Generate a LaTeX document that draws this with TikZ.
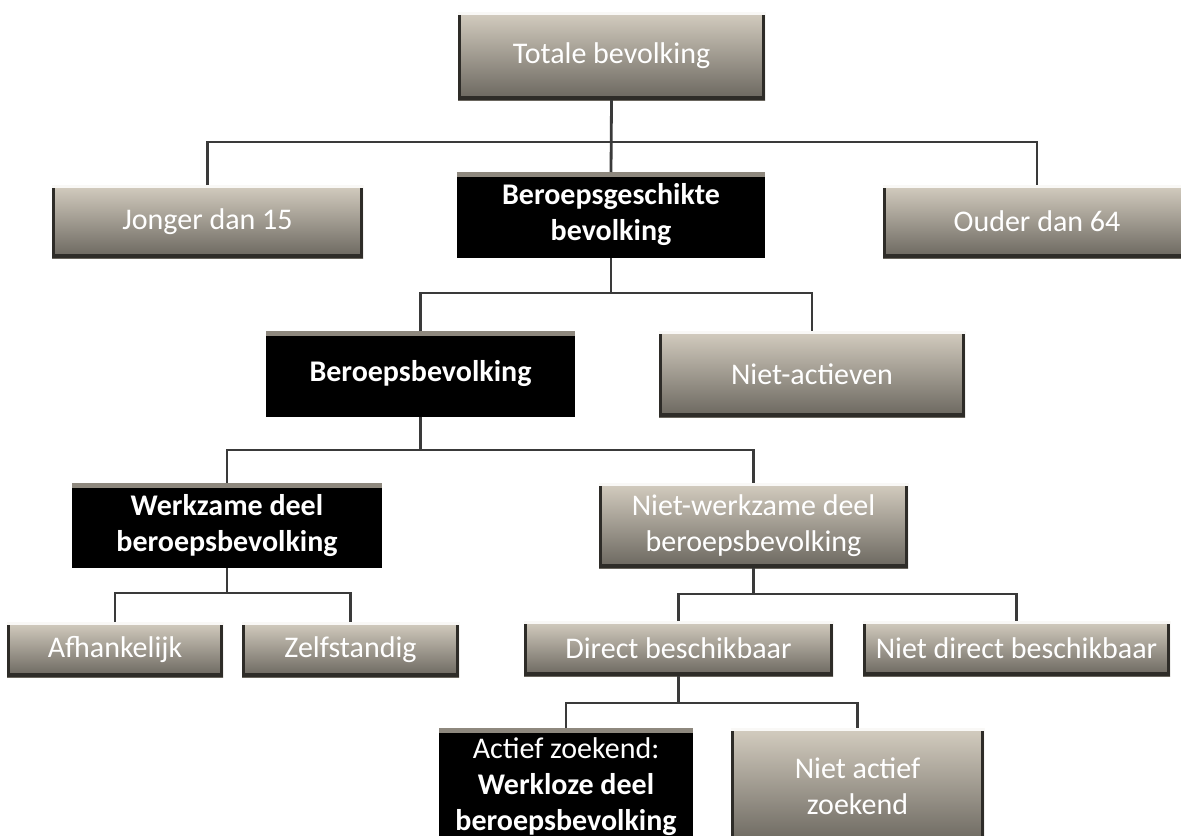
\documentclass[tikz,border=0pt]{standalone}
\usepackage{fontspec}
\setmainfont{Carlito}
\usetikzlibrary{positioning}

\definecolor{grijstop}{HTML}{D4CDC0}
\definecolor{grijsmid}{HTML}{A9A296}
\definecolor{grijsbodem}{HTML}{6A665E}
\definecolor{bevel}{HTML}{8E887E}
\definecolor{rand}{HTML}{2E2C28}
\definecolor{lijn}{HTML}{3A3A3A}

\begin{document}
\begin{tikzpicture}[x=0.5pt,y=-0.5pt,
box/.style={rectangle, inner sep=0pt, outer sep=0pt, align=center, text=white,
  font=\fontsize{15}{18}\selectfont},
grijs/.style={box, top color=grijstop, middle color=grijsmid, bottom color=grijsbodem,
  path picture={
    \fill[rand] (path picture bounding box.south west) rectangle
      ([xshift=1.5pt]path picture bounding box.north west);
    \fill[rand] (path picture bounding box.south east) rectangle
      ([xshift=-1.5pt]path picture bounding box.north east);
    \fill[rand] (path picture bounding box.south west) rectangle
      ([yshift=2pt]path picture bounding box.south east);
    \fill[white!85!grijstop] (path picture bounding box.north west) rectangle
      ([yshift=-1.5pt]path picture bounding box.north east);}},
zwart/.style={box, fill=black, font=\fontsize{15}{18}\selectfont\bfseries,
  path picture={\fill[bevel] (path picture bounding box.north west) rectangle
    ([yshift=-2.5pt]path picture bounding box.north east);}},
verbinding/.style={draw=lijn, line width=1.4pt},
]
\useasboundingbox (0,0) rectangle (1181,835);

\node at (611.5,56) [grijs, minimum width=153.5pt, minimum height=44pt](totaal){Totale bevolking};
\node at (207.5,221.5) [grijs, minimum width=155.5pt, minimum height=36.5pt](jonger){Jonger dan 15};
\node at (611,215) [zwart, minimum width=154pt, minimum height=43pt](geschikt){Beroepsgeschikte\\bevolking};
\node at (1037,221.5) [grijs, minimum width=154pt, minimum height=36.5pt](ouder){Ouder dan 64};
\coordinate (bus1) at (611,142);
\draw[verbinding] (totaal.south) -- (geschikt.north);
\draw[verbinding] (jonger.north) |- (bus1) -| (ouder.north);

\node at (420.5,374) [zwart, minimum width=154.5pt, minimum height=43pt](bevolking){Beroepsbevolking};
\node at (812,374) [grijs, minimum width=153pt, minimum height=43pt](nietactief){Niet-actieven};
\coordinate (bus2) at (611,293);
\draw[verbinding] (geschikt.south) -- (bus2);
\draw[verbinding] (bevolking.north) |- (bus2) -| (nietactief.north);

\node at (227,525.5) [zwart, minimum width=155pt, minimum height=42.5pt](werkzaam){Werkzame deel\\beroepsbevolking};
\node at (753.5,525.5) [grijs, minimum width=154.5pt, minimum height=42.5pt](nietwerk){Niet-werkzame deel\\beroepsbevolking};
\coordinate (bus3) at (420.5,450);
\draw[verbinding] (bevolking.south) -- (bus3);
\draw[verbinding] (werkzaam.north) |- (bus3) -| (nietwerk.north);

\node at (115,649.5) [grijs, minimum width=108pt, minimum height=27.5pt](afh){Afhankelijk};
\node at (350.5,649.5) [grijs, minimum width=108.5pt, minimum height=27.5pt](zelf){Zelfstandig};
\coordinate (bus4) at (227,593);
\draw[verbinding] (werkzaam.south) -- (bus4);
\draw[verbinding] (afh.north) |- (bus4) -| (zelf.north);

\node at (678.5,648.5) [grijs, minimum width=154.5pt, minimum height=27.5pt](direct){Direct beschikbaar};
\node at (1016.5,648.5) [grijs, minimum width=153.5pt, minimum height=27.5pt](nietdirect){Niet direct beschikbaar};
\coordinate (bus5) at (753.5,594);
\draw[verbinding] (nietwerk.south) -- (bus5);
\draw[verbinding] (direct.north) |- (bus5) -| (nietdirect.north);

\node at (566,786.5) [zwart, font=\fontsize{15}{18}\selectfont, minimum width=127pt, minimum height=58.5pt](actief){Actief zoekend:\\\textbf{Werkloze deel}\\\textbf{beroepsbevolking}};
\node at (857.5,786.5) [grijs, minimum width=126.5pt, minimum height=58.5pt](nietzoek){Niet actief\\zoekend};
\coordinate (bus6) at (678.5,703);
\draw[verbinding] (direct.south) -- (bus6);
\draw[verbinding] (actief.north) |- (bus6) -| (nietzoek.north);

\end{tikzpicture}
\end{document}
